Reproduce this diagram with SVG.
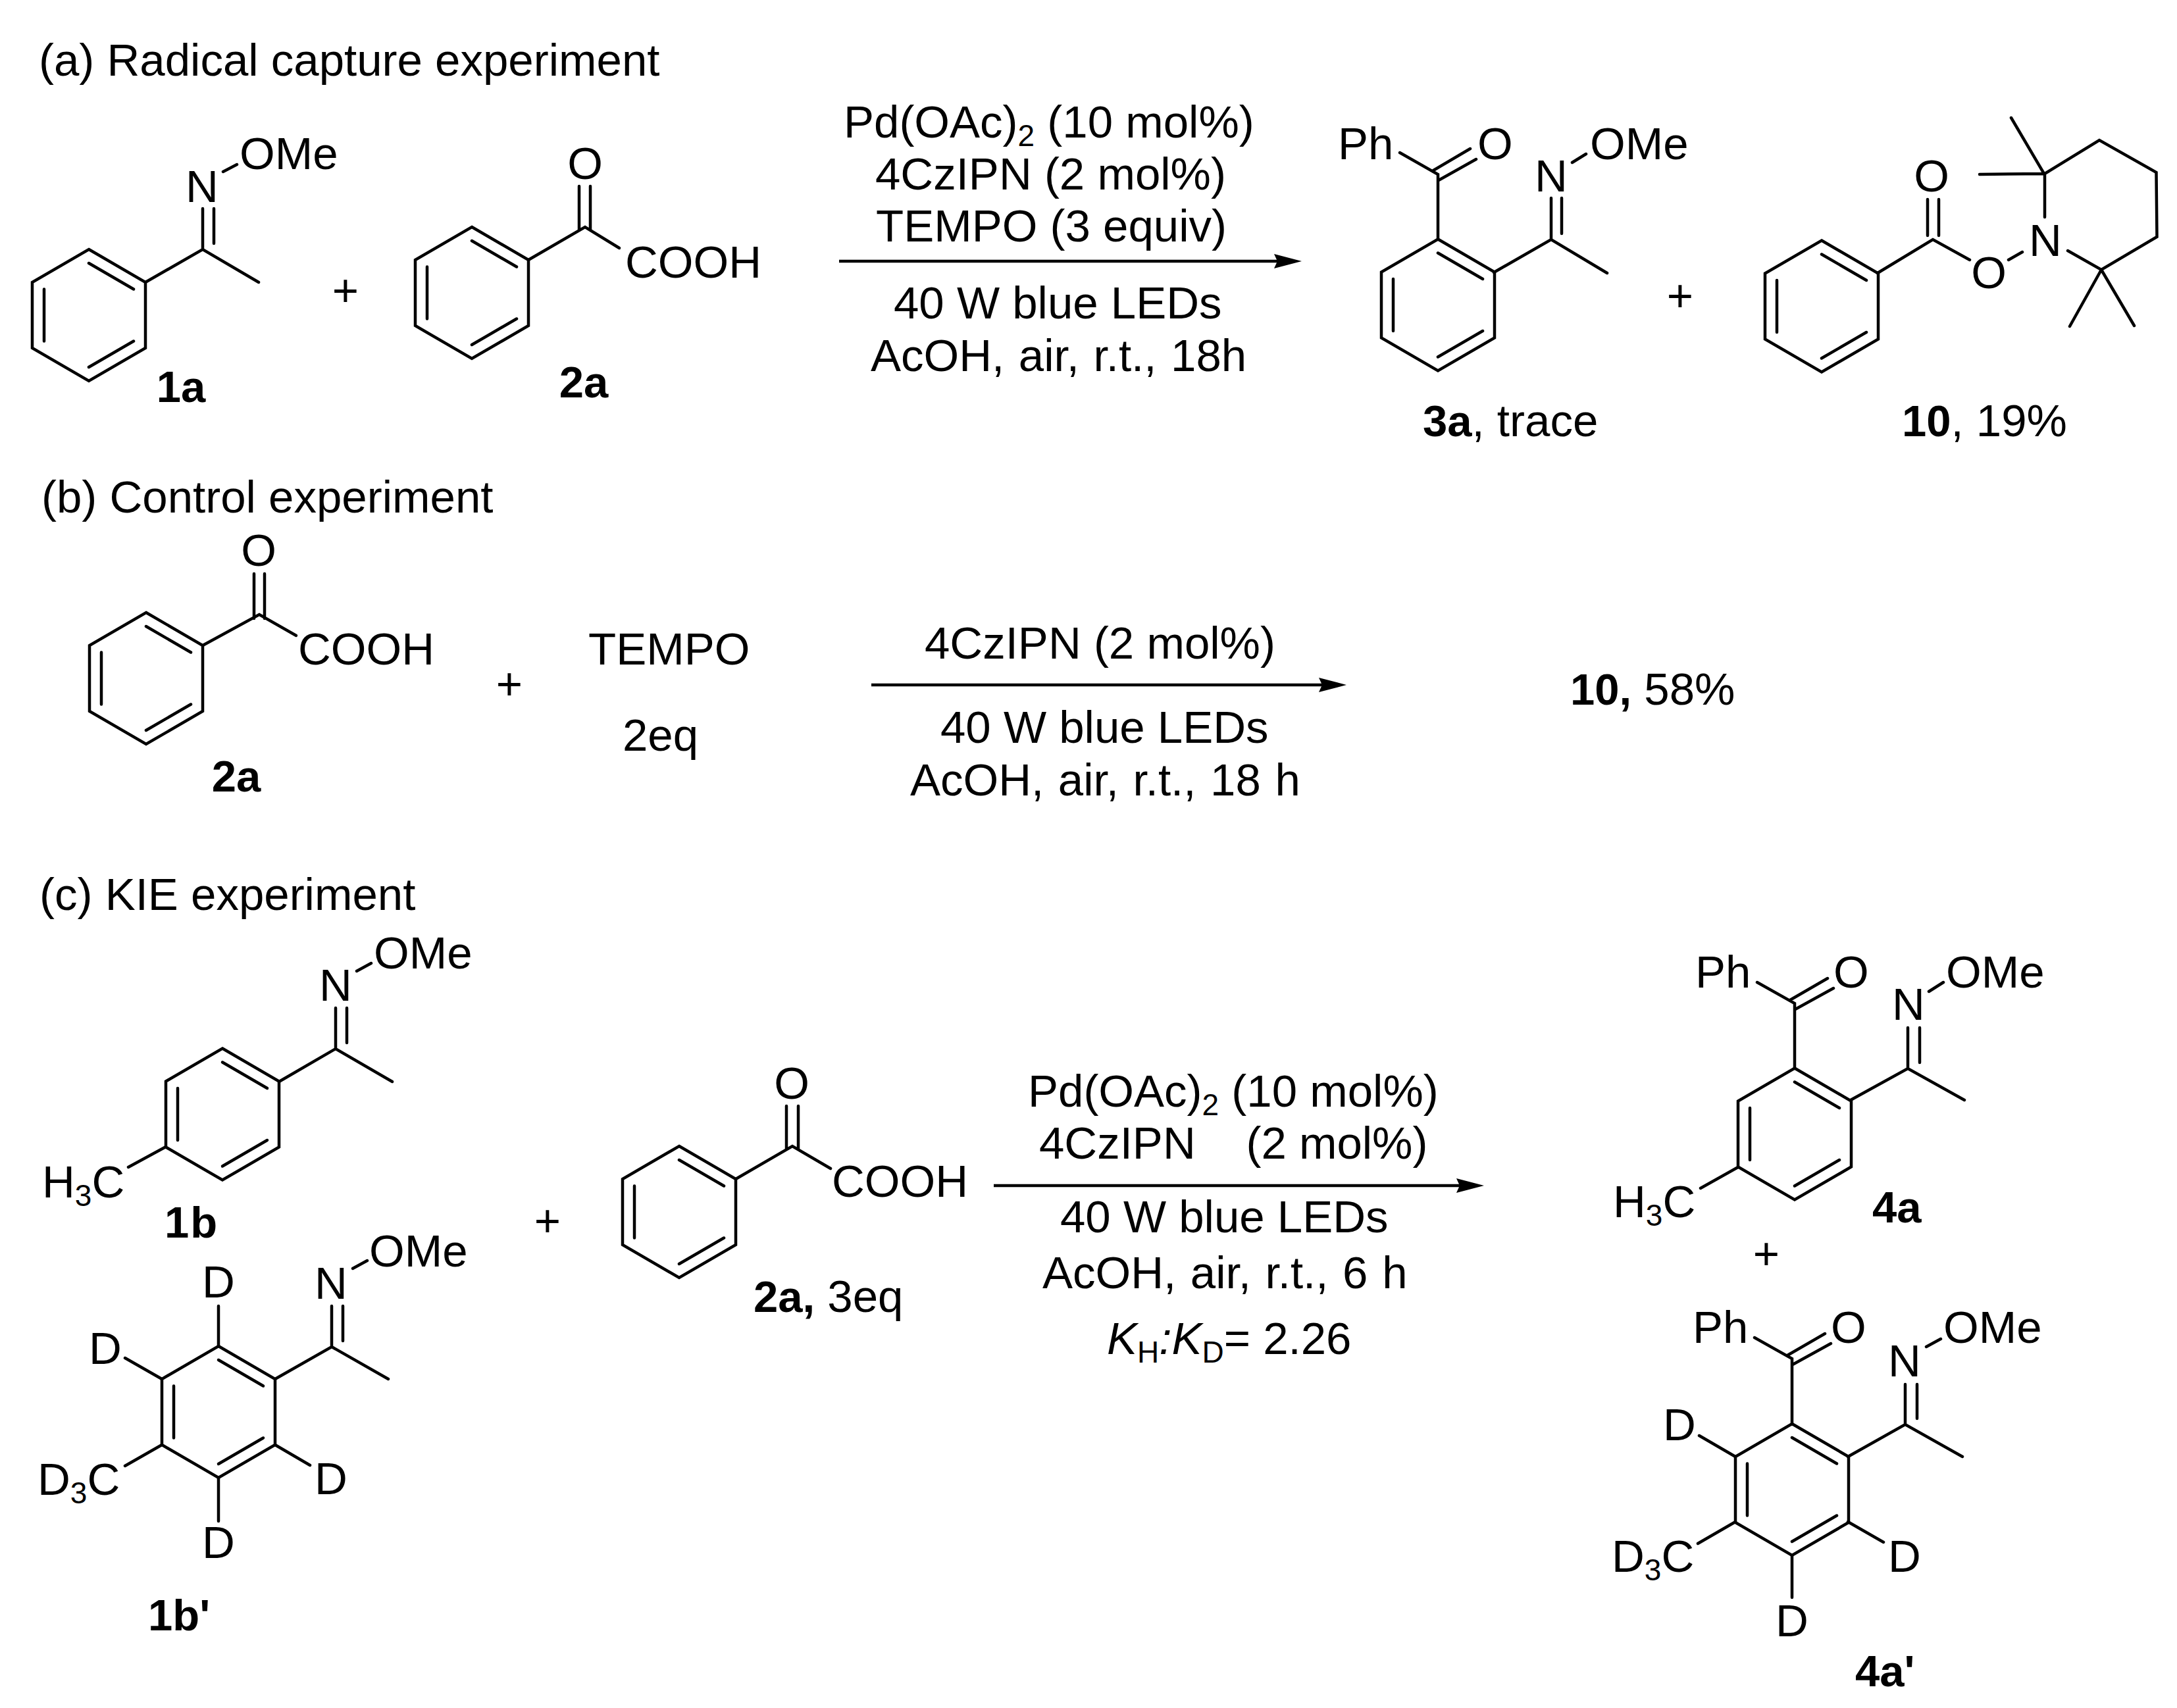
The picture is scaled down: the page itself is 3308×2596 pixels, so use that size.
<svg xmlns="http://www.w3.org/2000/svg" xmlns:xlink="http://www.w3.org/1999/xlink" width="3308" height="2596" viewBox="0 0 3308 2596">
<style>
text{font-family:"Liberation Sans",Arial,sans-serif;font-size:69px;fill:#000;white-space:pre}
.bd{font-weight:700;font-size:67px}
.i{font-style:italic}
.m{text-anchor:middle}
.s{font-size:46px}
.w{word-spacing:2.5px}
.b{fill:none;stroke:#000;stroke-width:4.5;stroke-linecap:round;stroke-linejoin:miter}
.a{fill:none;stroke:#000;stroke-width:4.5}
</style>
<defs>
<g id="benzene"><path class="b" d="M0,-100L86,-50L86,50L0,100L-86,50L-86,-50Z"/><path class="b" d="M0,-79L68,-39.5M-68,-39.5V39.5M0,79L68,39.5"/></g>
<marker id="head" markerUnits="userSpaceOnUse" markerWidth="44" markerHeight="24" refX="22" refY="11" orient="auto"><path d="M0,0L42,11L0,22L5,11Z" fill="#000"/></marker>
</defs>
<rect width="3308" height="2596" fill="#fff"/>

<g id="headings">
<text id="heading-a" x="59" y="115">(a) Radical capture experiment</text>
<text id="heading-b" x="63" y="779">(b) Control experiment</text>
<text id="heading-c" x="60" y="1383">(c) KIE experiment</text>
</g>

<g id="connectors">
<path class="a" marker-end="url(#head)" d="M1275,397H1958"/>
<path class="a" marker-end="url(#head)" d="M1324,1041H2026"/>
<path class="a" marker-end="url(#head)" d="M1510,1802H2235"/>
</g>

<g id="node-1a">
<use href="#benzene" xlink:href="#benzene" x="135" y="479"/>
<path class="b" d="M221,429L308,379L393,429M308,379V317M325,370V317M339,261L360,250"/>
<text x="282" y="307">N</text><text x="364" y="257">OMe</text>
<text class="bd m" x="275" y="611">1a</text>
</g>
<text id="plus-1" class="m" x="525" y="465">+</text>
<g id="node-2a-top">
<use href="#benzene" xlink:href="#benzene" x="717" y="445"/>
<path class="b" d="M803,395L889,345L941,377M880,350V283M897,350V283"/>
<text class="m" x="889" y="272">O</text><text x="950" y="422">COOH</text>
<text class="bd m" x="887" y="604">2a</text>
</g>

<g id="conditions-a">
<text x="1282" y="209">Pd(OAc)<tspan class="s" dy="13">2</tspan><tspan dy="-13"> (10 mol%)</tspan></text>
<text x="1330" y="288">4CzIPN (2 mol%)</text>
<text x="1331" y="367">TEMPO (3 equiv)</text>
<text x="1358" y="484">40 W blue LEDs</text>
<text class="w" x="1323" y="564">AcOH, air, r.t., 18h</text>
</g>

<g id="node-3a">
<use href="#benzene" xlink:href="#benzene" x="2185" y="463.5"/>
<path class="b" d="M2185,364V265L2127,232M2178,259L2234,226M2186,274L2243,242M2270,414L2357,364L2442,415M2357,364V301M2373,355V301M2389,247L2410,234"/>
<text x="2033" y="242">Ph</text><text x="2245" y="242">O</text><text x="2332" y="291">N</text><text x="2416" y="242">OMe</text>
<text x="2162" y="663"><tspan class="bd">3a</tspan>, trace</text>
</g>
<text id="plus-2" class="m" x="2553" y="473">+</text>
<g id="node-10">
<use href="#benzene" xlink:href="#benzene" x="2768" y="465.5"/>
<path class="b" d="M2853,415L2937,364L2993,395M2929,358V303M2946,358V303M3052,395L3073,383M3107,330V264L3190,213L3276.5,262L3277.5,360L3193,410L3142,381M3106,264L3056,179M3106,264L3008,265M3193,410L3145,496M3193,410L3243,495"/>
<text class="m" x="2935" y="291">O</text><text class="m" x="3022" y="438">O</text><text x="3083" y="389">N</text>
<text x="2890" y="663"><tspan class="bd">10</tspan>, 19%</text>
</g>

<g id="node-2a-b">
<use href="#benzene" xlink:href="#benzene" x="222" y="1031"/>
<path class="b" d="M308,981L394,934L450,966M386,940V872M402,940V872"/>
<text class="m" x="393" y="860">O</text><text x="453" y="1010">COOH</text>
<text class="bd m" x="359" y="1203">2a</text>
</g>
<text id="plus-3" class="m" x="774" y="1063">+</text>
<g id="node-tempo">
<text x="894" y="1010">TEMPO</text><text x="946" y="1141">2eq</text>
</g>
<g id="conditions-b">
<text x="1405" y="1001">4CzIPN (2 mol%)</text>
<text x="1429" y="1129">40 W blue LEDs</text>
<text class="w" x="1383" y="1209">AcOH, air, r.t., 18 h</text>
</g>
<text id="node-10-b" x="2386" y="1071"><tspan class="bd">10,</tspan> 58%</text>

<g id="node-1b">
<use href="#benzene" xlink:href="#benzene" x="338" y="1693.5"/>
<path class="b" d="M424,1644L510,1594L596,1644M510,1594V1532M527,1585V1532M542,1476L564,1464M195,1774L252,1743"/>
<text x="485" y="1521">N</text><text x="568" y="1472">OMe</text>
<text x="64" y="1820">H<tspan class="s" dy="13">3</tspan><tspan dy="-13">C</tspan></text>
<text class="bd" x="250" y="1881" letter-spacing="2">1b</text>
</g>
<g id="node-1b-prime">
<use href="#benzene" xlink:href="#benzene" x="332" y="2146"/>
<path class="b" d="M418,2096L504,2047L590,2096M504,2047V1985M521,2038V1985M536,1928L558,1916M332,1985V2046M190,2064L246,2096M190,2228L246,2196M471,2227L418,2196M332,2312V2246"/>
<text x="478" y="1974">N</text><text x="561" y="1925">OMe</text>
<text class="m" x="332" y="1972">D</text><text x="135" y="2073">D</text>
<text x="57" y="2272">D<tspan class="s" dy="13">3</tspan><tspan dy="-13">C</tspan></text>
<text x="478" y="2271">D</text><text class="m" x="332" y="2368">D</text>
<text class="bd" x="225" y="2478">1b'</text>
</g>
<text id="plus-4" class="m" x="832" y="1879">+</text>
<g id="node-2a-c">
<use href="#benzene" xlink:href="#benzene" x="1032" y="1842"/>
<path class="b" d="M1118,1792L1204,1742L1262,1776M1195,1747V1681M1213,1747V1681"/>
<text class="m" x="1203" y="1670">O</text><text x="1264" y="1819">COOH</text>
<text x="1145" y="1994"><tspan class="bd">2a,</tspan> 3eq</text>
</g>
<g id="conditions-c">
<text x="1562" y="1682">Pd(OAc)<tspan class="s" dy="13">2</tspan><tspan dy="-13"> (10 mol%)</tspan></text>
<text x="1579" y="1761">4CzIPN    (2 mol%)</text>
<text x="1611" y="1873">40 W blue LEDs</text>
<text class="w" x="1584" y="1958">AcOH, air, r.t., 6 h</text>
<text x="1682" y="2058"><tspan class="i">K</tspan><tspan class="s" dy="13">H</tspan><tspan class="i" dy="-13">:K</tspan><tspan class="s" dy="13">D</tspan><tspan dy="-13">= 2.26</tspan></text>
</g>

<g id="node-4a">
<use href="#benzene" xlink:href="#benzene" x="2727" y="1723.5"/>
<path class="b" d="M2727,1624V1525L2670,1493M2720,1520L2777,1487M2728,1534L2786,1502M2812,1672L2899,1624L2985,1672M2899,1624V1562M2917,1615V1562M2931,1507L2953,1493M2584,1806L2641,1774"/>
<text x="2576" y="1501">Ph</text><text x="2786" y="1501">O</text><text x="2875" y="1550">N</text><text x="2957" y="1501">OMe</text>
<text x="2451" y="1850">H<tspan class="s" dy="13">3</tspan><tspan dy="-13">C</tspan></text>
<text class="bd" x="2845" y="1858">4a</text>
</g>
<text id="plus-5" class="m" x="2684" y="1929">+</text>
<g id="node-4a-prime">
<use href="#benzene" xlink:href="#benzene" x="2723" y="2264"/>
<path class="b" d="M2723,2165V2065L2666,2033M2716,2060L2773,2027M2724,2074L2782,2042M2808,2214L2895,2165L2982,2214M2895,2165V2104M2913,2156V2104M2927,2047L2949,2035M2582,2182L2637,2214M2580,2346L2637,2313M2862,2344L2808,2313M2723,2428V2364"/>
<text x="2572" y="2041">Ph</text><text x="2782" y="2041">O</text><text x="2869" y="2092">N</text><text x="2953" y="2041">OMe</text>
<text x="2527" y="2189">D</text>
<text x="2449" y="2389">D<tspan class="s" dy="13">3</tspan><tspan dy="-13">C</tspan></text>
<text x="2869" y="2389">D</text><text class="m" x="2723" y="2487">D</text>
<text class="bd" x="2819" y="2563">4a'</text>
</g>
</svg>
